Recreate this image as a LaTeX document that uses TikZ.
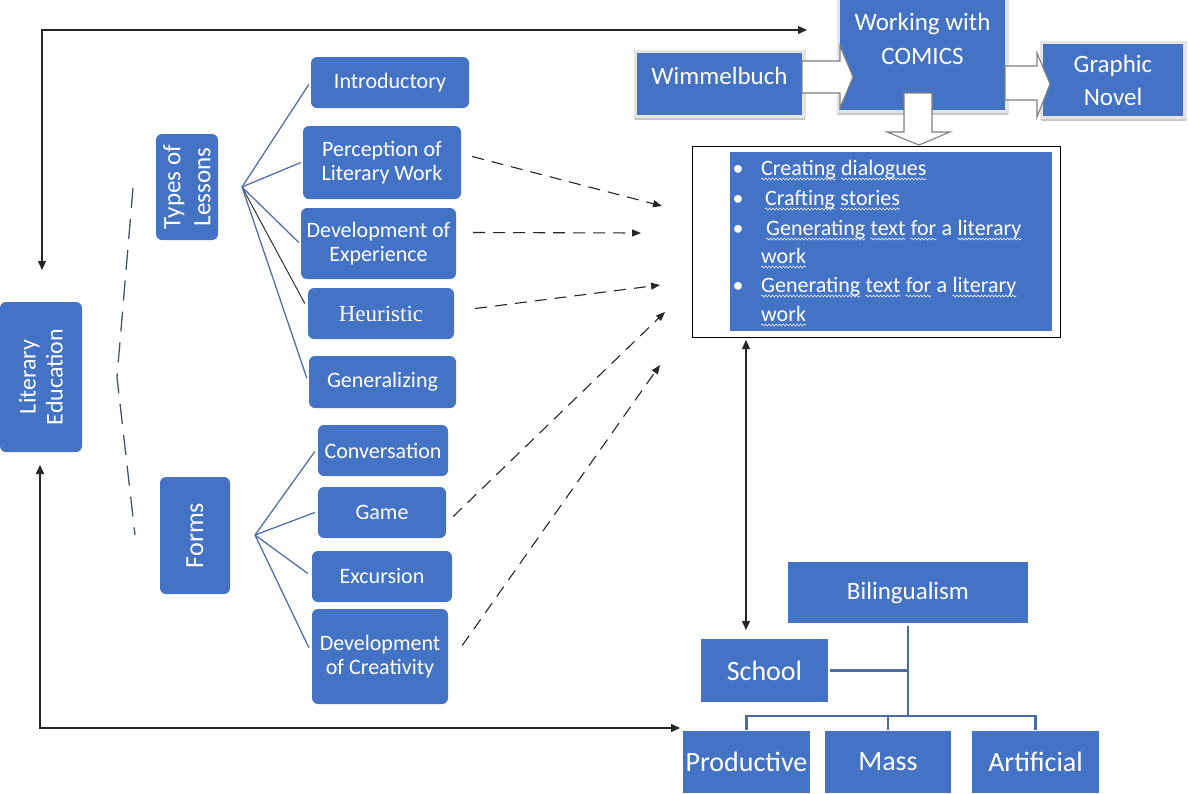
\documentclass[tikz,border=0pt]{standalone}
\usepackage{fontspec}
\setmainfont{Carlito}
\newfontfamily\heurfont{Liberation Serif}
\usetikzlibrary{arrows.meta,calc,decorations.pathmorphing}
\definecolor{boxblue}{HTML}{4472C4}
\definecolor{fanline}{HTML}{5470A8}
\definecolor{treeline}{HTML}{4A6CA3}
\definecolor{dashslate}{HTML}{44546A}
\definecolor{arrgray}{HTML}{7F7F7F}
\definecolor{shadowgray}{HTML}{E4E4E4}
\newcommand\fsz[2]{\fontsize{#1}{#2}\selectfont}
\tikzset{
  rbox/.style={fill=boxblue, rounded corners=6pt, text=white, align=center, inner sep=0pt, font=\fsz{22}{24}},
  sbox/.style={fill=boxblue, text=white, align=center, inner sep=0pt},
  shadowed/.style={preaction={draw=shadowgray, line width=7pt}},
  shadowline/.style={draw=black!22, line width=2.5pt},
  fanl/.style={draw=fanline, line width=1.3pt},
  treel/.style={draw=treeline, line width=2.4pt},
  dasharr/.style={draw=black!85, line width=1.1pt, dash pattern=on 12pt off 8pt, -{Triangle[length=9pt,width=7pt]}},
  dbl/.style={draw=black!85, line width=1.1pt, {Triangle[length=9pt,width=8pt]}-{Triangle[length=9pt,width=8pt]}},
  barrow/.style={draw=arrgray, line width=1.1pt, fill=white, line join=miter},
  lt/.style={text=white, inner sep=0pt, font=\fsz{22}{24}},
  squig/.style={draw=white!90!boxblue, line width=0.6pt, decorate, decoration={snake, amplitude=1pt, segment length=3.5pt}},
}
\begin{document}
\begin{tikzpicture}[x=1pt,y=-1pt]
\useasboundingbox (0,0) rectangle (1189,793);

% ---- left column
\node[rbox, rotate=90, minimum width=150, minimum height=82, font=\fsz{24}{27}] (lit) at (41,377) {Literary\\Education};
\node[rbox, rotate=90, minimum width=106, minimum height=62, font=\fsz{25}{30}] (types) at (187,187) {Types of\\Lessons};
\node[rbox, rotate=90, minimum width=117, minimum height=70, font=\fsz{26}{30}] (forms) at (195,535.5) {Forms};

\coordinate (d1) at (133,188);
\coordinate (d2) at (117,377);
\coordinate (d3) at (135,535);
\draw[dashslate, line width=1.3pt, dash pattern=on 20pt off 11pt] (d1) -- (d2) -- (d3);

% ---- types of lessons
\node[rbox, minimum width=158, minimum height=51] (intro) at (390,82.5) {Introductory};
\node[rbox, minimum width=158, minimum height=73] (perc) at (382,162.5) {Perception of\\Literary Work};
\node[rbox, minimum width=155, minimum height=71] (devexp) at (378.5,243.5) {Development of\\Experience};
\node[rbox, minimum width=146, minimum height=51, font=\heurfont\fsz{23}{24}] (heur) at (381,313.5) {Heuristic};
\node[rbox, minimum width=147, minimum height=52] (gen) at (382.5,382) {Generalizing};

\coordinate (tfan) at (242,187);
\draw[fanl] (tfan) -- ($(intro.west)+(-2,2)$);
\draw[fanl] (tfan) -- ($(perc.west)+(-2,0)$);
\draw[fanl] (tfan) -- ($(devexp.west)+(-2,-1)$);
\draw[draw=black!80, line width=1pt] (tfan) -- ($(heur.west)+(-3,-10)$);
\draw[fanl] (tfan) -- ($(gen.west)+(-2,-4)$);

% ---- forms
\node[rbox, minimum width=130, minimum height=51] (conv) at (383,450.5) {Conversation};
\node[rbox, minimum width=128, minimum height=51] (game) at (382,512.5) {Game};
\node[rbox, minimum width=140, minimum height=51] (exc) at (382,576.5) {Excursion};
\node[rbox, minimum width=136, minimum height=95] (devcr) at (380,656.5) {Development\\of Creativity};

\coordinate (ffan) at (255,535);
\draw[fanl] (ffan) -- ($(conv.west)+(-3,1)$);
\draw[fanl] (ffan) -- ($(game.west)+(-3,0)$);
\draw[fanl] (ffan) -- ($(exc.west)+(-4,-3)$);
\draw[fanl] (ffan) -- ($(devcr.west)+(-3,-9)$);

% ---- dashed arrows
\coordinate (e1) at (662,206);
\coordinate (e2) at (641,233);
\coordinate (e3) at (660,285);
\coordinate (e4) at (665,312);
\coordinate (e5) at (660,365);
\draw[dasharr] ($(perc.east)+(11,-6)$) -- (e1);
\draw[dasharr] ($(devexp.east)+(17,-11)$) -- (e2);
\draw[dasharr] ($(heur.east)+(21,-5)$) -- (e3);
\draw[dasharr] ($(game.east)+(7,4)$) -- (e4);
\draw[dasharr] ($(devcr.east)+(14,-11)$) -- (e5);

% ---- top right
\node[sbox, shadowed, minimum width=165, minimum height=62] (wim) at (719.5,84) {};
\draw[shadowline] ($(wim.south west)+(-2,4)$) -- ($(wim.south east)+(3,4)$);
\node[lt, font=\fsz{25}{30}] (wimt) at (719.5,76) {Wimmelbuch};
\node[sbox, shadowed, minimum width=165, minimum height=110] (work) at (922.5,55) {};
\draw[shadowline] ($(work.south west)+(-2,4)$) -- ($(work.south east)+(3,4)$);
\node[lt, font=\fsz{25}{34}, align=center] (workt) at (922.5,39) {Working with\\COMICS};
\node[sbox, shadowed, minimum width=140, minimum height=72, font=\fsz{25}{33}] (graph) at (1113,80) {Graphic\\Novel};
\draw[shadowline] ($(graph.south west)+(-2,4)$) -- ($(graph.south east)+(3,4)$);

\draw[barrow] (802,61) -- (840,61) -- (840,46) -- (853,77) -- (840,108) -- (840,93) -- (802,93) -- cycle;
\draw[barrow] (1005,66) -- (1037,66) -- (1037,53) -- (1050,84) -- (1037,117) -- (1037,100) -- (1005,100) -- cycle;
\draw[barrow] (904,93) -- (932,93) -- (932,132) -- (950,132) -- (919,145) -- (887,132) -- (904,132) -- cycle;

% ---- list box
\node[draw=black, line width=1pt, fill=white, minimum width=368, minimum height=191, inner sep=0pt] (frame) at (876,241.5) {};
\node[sbox, minimum width=322, minimum height=179] (list) at (891,241.5) {};
\foreach \y in {175,205,235,292} {\node[lt, anchor=base] at (738,\y) {\textbullet};}
\node[lt, anchor=base west] (w11) at (761,175) {Creating};
\node[lt, anchor=base west] (w12) at ($(w11.base east)+(5,0)$) {dialogues};
\node[lt, anchor=base west] (w21) at (765,205) {Crafting};
\node[lt, anchor=base west] (w22) at ($(w21.base east)+(5,0)$) {stories};
\node[lt, anchor=base west] (w31) at (766,235) {Generating};
\node[lt, anchor=base west] (w32) at ($(w31.base east)+(5,0)$) {text};
\node[lt, anchor=base west] (w33) at ($(w32.base east)+(5,0)$) {for};
\node[lt, anchor=base west] (w3a) at ($(w33.base east)+(5,0)$) {a};
\node[lt, anchor=base west] (w34) at ($(w3a.base east)+(5,0)$) {literary};
\node[lt, anchor=base west] (w41) at (761,263) {work};
\node[lt, anchor=base west] (w51) at (761,292) {Generating};
\node[lt, anchor=base west] (w52) at ($(w51.base east)+(5,0)$) {text};
\node[lt, anchor=base west] (w53) at ($(w52.base east)+(5,0)$) {for};
\node[lt, anchor=base west] (w5a) at ($(w53.base east)+(5,0)$) {a};
\node[lt, anchor=base west] (w54) at ($(w5a.base east)+(5,0)$) {literary};
\node[lt, anchor=base west] (w61) at (761,321) {work};
\foreach \w in {w11,w12,w21,w22,w31,w32,w33,w34,w41,w51,w52,w53,w54,w61}
  {\draw[squig] ($(\w.base west)+(0,4)$) -- ($(\w.base east)+(0,4)$);}

% ---- bilingualism tree
\node[sbox, minimum width=240, minimum height=61, font=\fsz{25}{30}] (bil) at (908,592.5) {Bilingualism};
\node[sbox, minimum width=127, minimum height=63, font=\fsz{28}{32}] (school) at (764.5,670.5) {School};
\node[sbox, minimum width=127, minimum height=62, font=\fsz{28}{32}] (prod) at (746.5,762) {Productive};
\node[sbox, minimum width=126, minimum height=62, font=\fsz{28}{32}] (mass) at (888,762) {Mass};
\node[sbox, minimum width=127, minimum height=62, font=\fsz{28}{32}] (art) at (1035.5,762) {Artificial};

\coordinate (j) at ($(bil.south)+(0,93)$);
\draw[treel] ($(bil.south)+(0,3)$) -- (j);
\draw[treel] ($(school.east)+(2,0)$) -- (school.east -| j);
\draw[treel] ($(prod.north)+(0,-1)$) |- (j) -| ($(art.north)+(0,-1)$);
\draw[treel] ($(mass.north)+(0,-1)$) -- (mass.north |- j);

% ---- black double arrows
\coordinate (va) at (746,340);
\coordinate (vb) at (746,630);
\draw[dbl] (va) -- (vb);
\coordinate (ta) at (42,270);
\coordinate (tb) at (807,30);
\draw[dbl] (ta) |- (tb);
\coordinate (ba) at (40,465);
\coordinate (bb) at (680,728);
\draw[dbl] (ba) |- (bb);
\end{tikzpicture}
\end{document}
